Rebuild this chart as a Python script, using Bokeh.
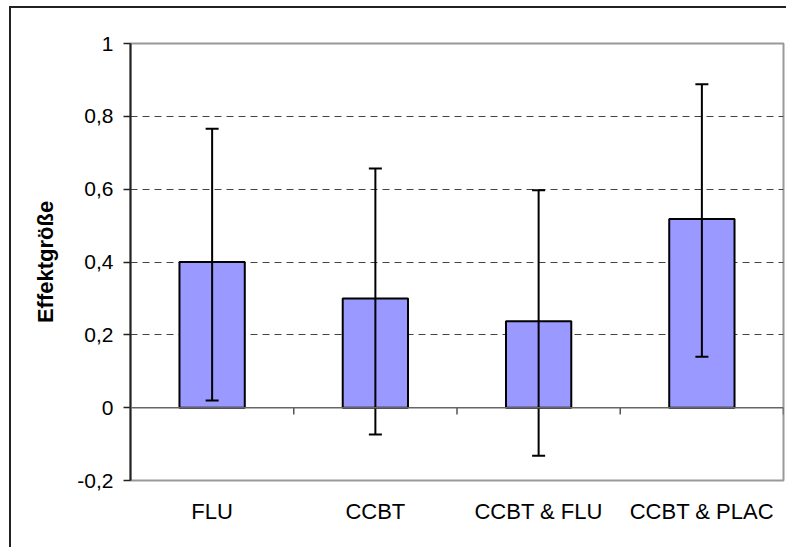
from bokeh.plotting import figure
from bokeh.models import (FactorRange, Range1d, FixedTicker, CustomJSTickFormatter,
                          ColumnDataSource, Whisker, TeeHead, Span)
from bokeh.transform import dodge
from bokeh.embed import file_html
from bokeh.resources import INLINE

categories = ["FLU", "CCBT", "CCBT & FLU", "CCBT & PLAC"]
effect = [0.40, 0.30, 0.237, 0.518]
lower = [0.020, -0.074, -0.132, 0.140]
upper = [0.766, 0.657, 0.597, 0.888]
y_ticks = [-0.2, 0.0, 0.2, 0.4, 0.6, 0.8, 1.0]
grid_ticks = [0.2, 0.4, 0.6, 0.8]

FONT = "Liberation Sans"

p = figure(x_range=FactorRange(*categories, factor_padding=0, range_padding=0),
           y_range=Range1d(-0.2, 1.0),
           width=777, height=541, output_backend="svg", toolbar_location=None,
           min_border_left=119, min_border_right=5, min_border_top=35, min_border_bottom=69)
p.styles = {"border-left": "2px solid #222", "border-top": "2px solid #222",
            "margin-left": "9px", "margin-top": "6px"}

src = ColumnDataSource(dict(cat=categories, effect=effect, lower=lower, upper=upper,
                            zero=[0] * len(categories), tick_end=[-0.019] * len(categories)))

p.vbar(x="cat", top="effect", bottom=0, width=0.4, source=src,
       fill_color="#9999FF", line_color="black", line_width=2)

w = Whisker(base="cat", upper="upper", lower="lower", source=src,
            line_color="black", line_width=2, level="annotation",
            upper_head=TeeHead(size=13, line_color="black", line_width=2),
            lower_head=TeeHead(size=13, line_color="black", line_width=2))
p.add_layout(w)

# zero line (category axis position)
p.add_layout(Span(location=0, dimension="width", line_color="#666666", line_width=1.5))
# category boundary ticks at the zero line
p.segment(x0=dodge("cat", 0.5, range=p.x_range), x1=dodge("cat", 0.5, range=p.x_range),
          y0="zero", y1="tick_end", source=src, line_color="#555555", line_width=1.5)

p.outline_line_color = "#999999"
p.outline_line_width = 2

p.xgrid.grid_line_color = None
p.ygrid.ticker = FixedTicker(ticks=grid_ticks)
p.ygrid.grid_line_color = "#444444"
p.ygrid.grid_line_dash = "7 5"
p.ygrid.grid_line_width = 1

ya = p.yaxis[0]
ya.ticker = FixedTicker(ticks=y_ticks)
ya.formatter = CustomJSTickFormatter(code="""
    const v = Math.round(tick * 10) / 10;
    return String(v).replace('.', ',');
""")
ya.axis_line_color = "#222222"
ya.axis_line_width = 2
ya.major_tick_in = 0
ya.major_tick_out = 7
ya.major_tick_line_color = "#222222"
ya.major_tick_line_width = 1.5
ya.minor_tick_line_color = None
ya.major_label_standoff = 10
ya.major_label_text_font = FONT
ya.major_label_text_font_size = "21px"
ya.major_label_text_color = "black"
ya.axis_label = "Effektgröße"
ya.axis_label_text_font = FONT
ya.axis_label_text_font_size = "22px"
ya.axis_label_text_font_style = "bold"
ya.axis_label_text_color = "black"
ya.axis_label_standoff = 16

xa = p.xaxis[0]
xa.axis_line_color = None
xa.major_tick_line_color = None
xa.minor_tick_line_color = None
xa.major_label_standoff = 12
xa.major_label_text_font = FONT
xa.major_label_text_font_size = "22px"
xa.major_label_text_color = "black"

open("out.html", "w").write(file_html(p, INLINE))
